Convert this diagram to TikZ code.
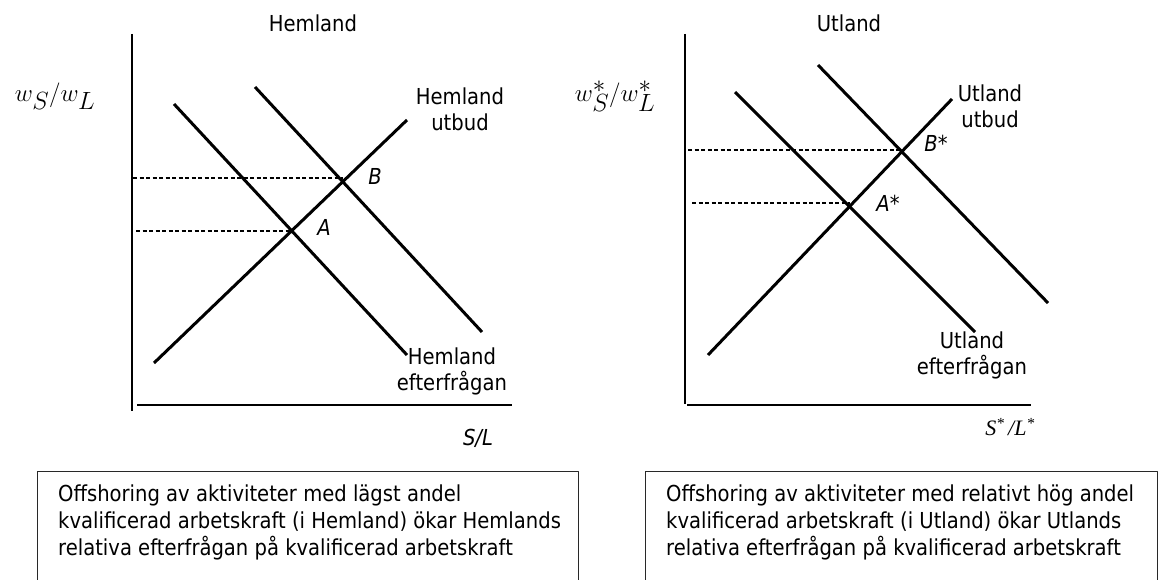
\documentclass[tikz,border=0pt]{standalone}
\usepackage{fontspec}
\setmainfont{DejaVu Sans}[FakeStretch=0.89]
\newfontfamily\timesfont{Liberation Serif}
\usepackage{tikz}
\usetikzlibrary{positioning}
\definecolor{ramgra}{RGB}{40,40,40}

\begin{document}
\begin{tikzpicture}[x=1pt, y=-1pt, line join=round,
    kurva/.style={line width=3pt},
    axel/.style={line width=2pt},
    streck/.style={line width=1.3pt, dash pattern=on 4pt off 2.5pt},
    etikett/.style={font=\fontsize{22}{26}\selectfont, align=center, inner sep=0pt},
    punkt/.style={font=\fontsize{22}{26}\selectfont\itshape, inner sep=0pt},
    kvot/.style={font=\fontsize{33}{38}\selectfont, inner sep=0pt},
    ruta/.style={draw=ramgra, line width=0.9pt}]
    \useasboundingbox (0,0) rectangle (1158,580);

    % Hemland: axlar
    \node[etikett] (titelH) at (313,23) {Hemland};
    \coordinate (yH) at (132,34);
    \coordinate (oH) at (132,411);
    \coordinate (xH0) at (137,405);
    \coordinate (xH) at (512,405);
    \draw[axel] (yH) -- (oH);
    \draw[axel] (xH0) -- (xH);
    \node[kvot] (wH) at (55,96) {$w_S/w_L$};
    \node[punkt] (SL) at (478,438) {S/L};

    % Hemland: utbud och efterfrågan
    \coordinate (uH1) at (154,363);
    \coordinate (uH2) at (407,120);
    \coordinate (dH1) at (174,104);
    \coordinate (dH2) at (407,355);
    \coordinate (eH1) at (255,87);
    \coordinate (eH2) at (482,332);
    \draw[kurva] (uH1) -- (uH2);
    \draw[kurva] (dH1) -- (dH2);
    \draw[kurva] (eH1) -- (eH2);
    \node[etikett] (utbH) at (460,109) {Hemland\\utbud};
    \node[etikett] (efH) at (452,371) {Hemland\\efterfrågan};

    % Jämvikter A och B
    \coordinate (A) at (292,231);
    \coordinate (B) at (343,178);
    \draw[streck] (136,231) -- (A);
    \draw[streck] (133,178) -- (B);
    \node[punkt] (lA) at (324,227) {A};
    \node[punkt] (lB) at (375,176) {B};

    % Utland: axlar
    \node[etikett] (titelU) at (849,23) {Utland};
    \coordinate (yU) at (685,34);
    \coordinate (oU) at (685,404);
    \coordinate (xU0) at (687,405);
    \coordinate (xU) at (1031,405);
    \draw[axel] (yU) -- (oU);
    \draw[axel] (xU0) -- (xU);
    \node[kvot] (wU) at (615,96) {$w^*_S/w^*_L$};
    \node[inner sep=0pt, font=\timesfont\itshape\fontsize{22}{26}\selectfont] (SLU) at (1010,427) {S\textsuperscript{*}\,/L\textsuperscript{*}};

    % Utland: utbud och efterfrågan
    \coordinate (uU1) at (708,355);
    \coordinate (uU2) at (952,99);
    \coordinate (dU1) at (735,92);
    \coordinate (dU2) at (975,332);
    \coordinate (eU1) at (818,65);
    \coordinate (eU2) at (1048,303);
    \draw[kurva] (uU1) -- (uU2);
    \draw[kurva] (dU1) -- (dU2);
    \draw[kurva] (eU1) -- (eU2);
    \node[etikett] (utbU) at (990,106) {Utland\\utbud};
    \node[etikett] (efU) at (972,355) {Utland\\efterfrågan};

    % Jämvikter A* och B*
    \coordinate (As) at (850,203);
    \coordinate (Bs) at (902,150);
    \draw[streck] (692,203) -- (As);
    \draw[streck] (688,150) -- (Bs);
    \node[punkt] (lAs) at (888,203) {A*};
    \node[punkt] (lBs) at (936,143) {B*};

    % Textrutor
    \draw[ruta] (37,580) -- (37,471) -- (578,471) -- (578,580);
    \draw[ruta] (645,580) -- (645,471) -- (1157,471) -- (1157,580);
    \node[etikett, font=\fontsize{22}{27}\selectfont, align=left, anchor=west] (textH) at (58,522)
        {Offshoring av aktiviteter med lägst andel\\kvalificerad arbetskraft (i Hemland) ökar Hemlands\\relativa efterfrågan på kvalificerad arbetskraft};
    \node[etikett, font=\fontsize{22}{27}\selectfont, align=left, anchor=west] (textU) at (666,522)
        {Offshoring av aktiviteter med relativt hög andel\\kvalificerad arbetskraft (i Utland) ökar Utlands\\relativa efterfrågan på kvalificerad arbetskraft};
\end{tikzpicture}
\end{document}
